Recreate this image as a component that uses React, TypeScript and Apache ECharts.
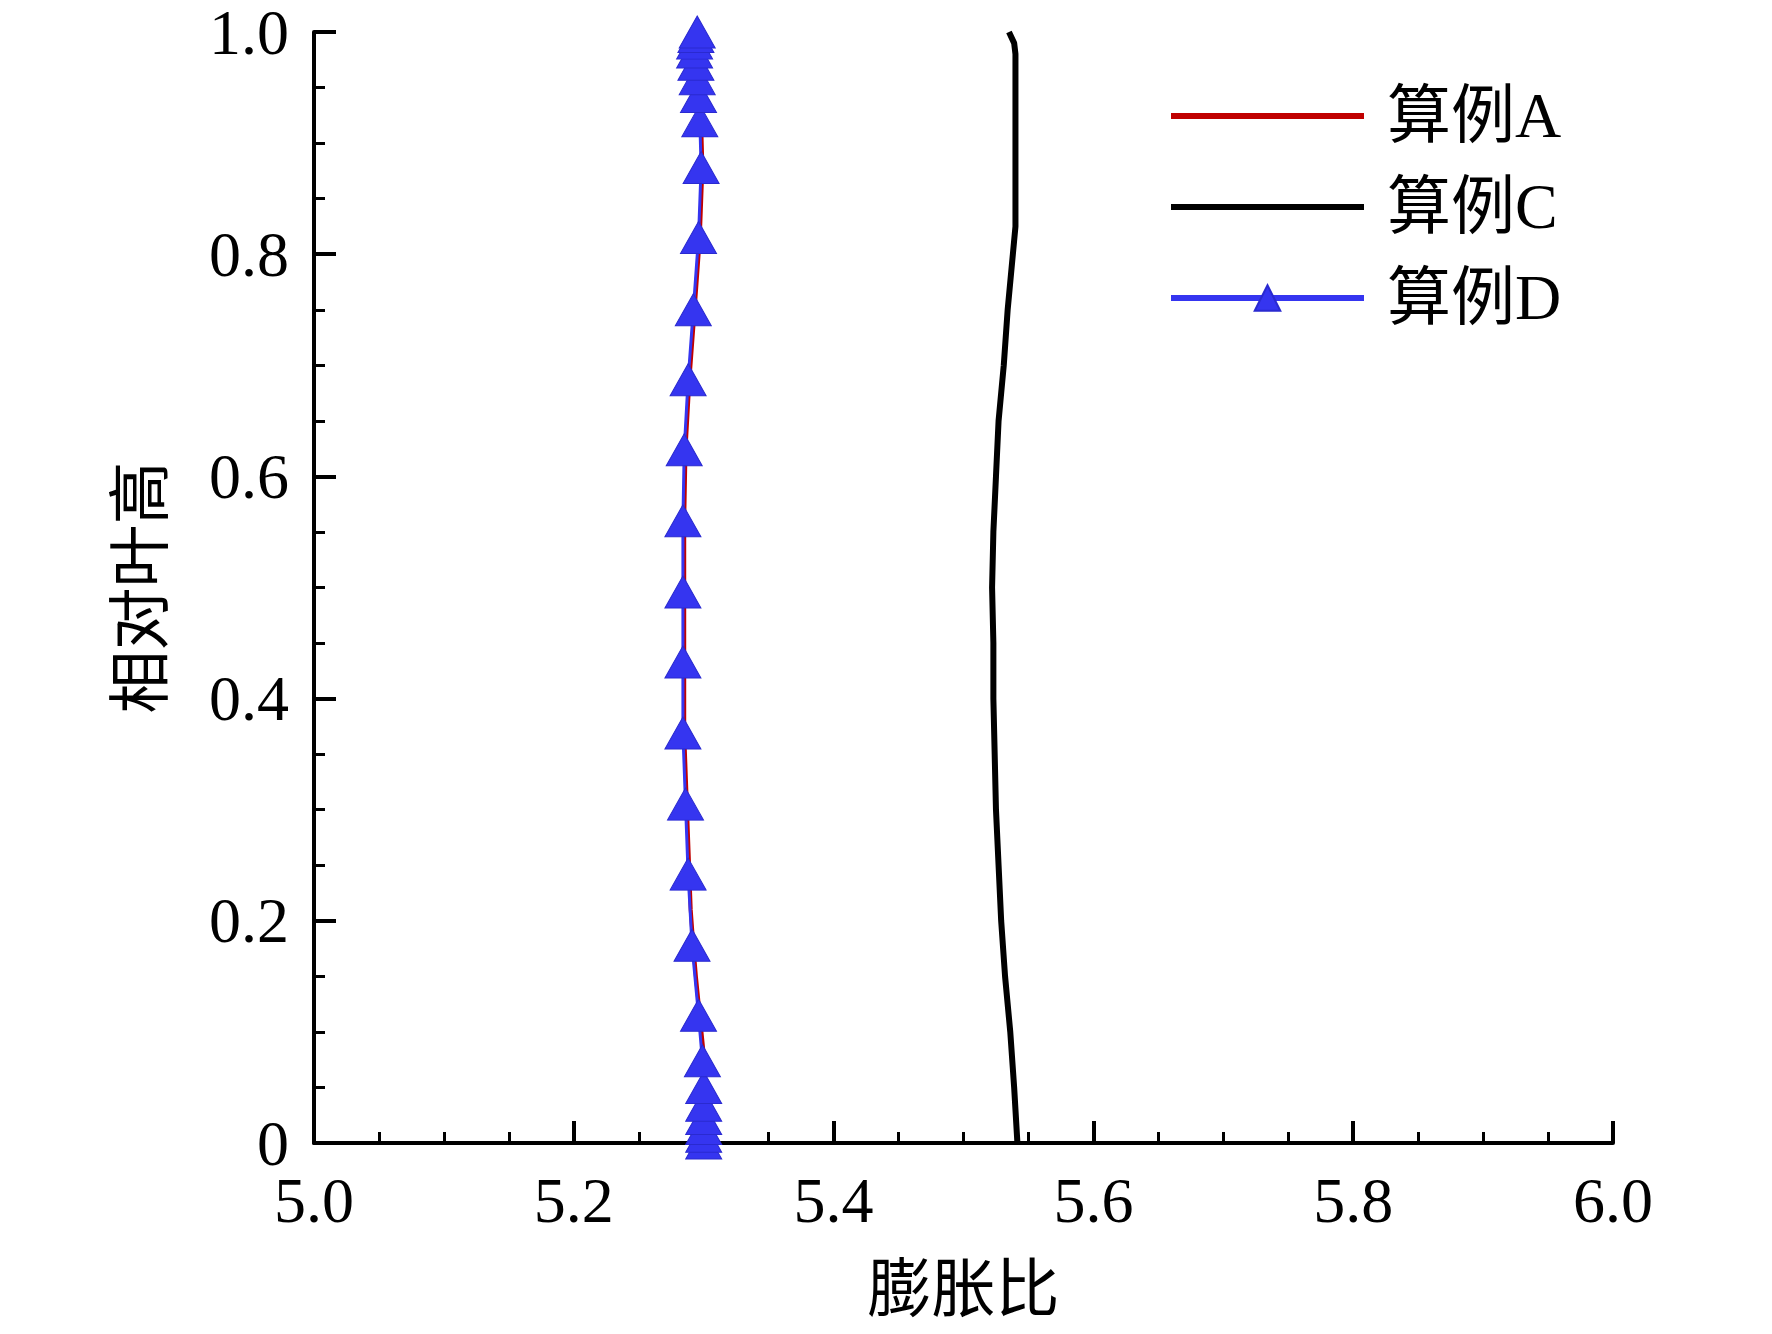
import React, { useEffect, useRef } from "react";
import * as echarts from "echarts";

// relative blade height (y) and expansion ratio (x)
const hD = [0, 0.006, 0.013, 0.022, 0.034, 0.05, 0.074, 0.115, 0.178, 0.242, 0.305, 0.369, 0.433, 0.496, 0.56, 0.624, 0.687, 0.75, 0.815, 0.878, 0.92, 0.942, 0.958, 0.971, 0.982, 0.99, 0.996, 1.0];
const xD = [5.3, 5.3, 5.3, 5.3, 5.3, 5.3, 5.299, 5.296, 5.291, 5.288, 5.286, 5.284, 5.284, 5.284, 5.284, 5.285, 5.288, 5.292, 5.296, 5.298, 5.297, 5.296, 5.295, 5.294, 5.293, 5.293, 5.294, 5.295];

const hA = [0, 0.02, 0.05, 0.08, 0.115, 0.15, 0.178, 0.21, 0.242, 0.305, 0.369, 0.433, 0.496, 0.56, 0.624, 0.687, 0.75, 0.815, 0.878, 0.92, 0.96, 0.99, 1.0];
const xA = [5.3, 5.3, 5.3, 5.3, 5.297, 5.294, 5.292, 5.29, 5.289, 5.287, 5.285, 5.285, 5.285, 5.285, 5.286, 5.289, 5.293, 5.297, 5.299, 5.298, 5.296, 5.294, 5.295];

const hC = [0, 0.05, 0.1, 0.15, 0.2, 0.25, 0.3, 0.35, 0.4, 0.45, 0.5, 0.55, 0.6, 0.65, 0.7, 0.75, 0.8, 0.825, 0.85, 0.9, 0.95, 0.98, 0.99, 1.0];
const xC = [5.5415, 5.539, 5.536, 5.532, 5.529, 5.527, 5.525, 5.524, 5.523, 5.523, 5.522, 5.523, 5.525, 5.527, 5.531, 5.534, 5.538, 5.54, 5.54, 5.54, 5.54, 5.54, 5.539, 5.535];

const seriesNames = ["算例A", "算例C", "算例D"];
const xTicks = [5.0, 5.2, 5.4, 5.6, 5.8, 6.0];
const yTicks = [0, 0.2, 0.4, 0.6, 0.8, 1.0];

const pairs = (xs: number[], hs: number[]) => xs.map((x, i) => [x, hs[i]]);

export default function App() {
  const ref = useRef<HTMLDivElement>(null);
  useEffect(() => {
    const chart = echarts.init(ref.current!, null, { renderer: "svg" });
    const serif = "'Liberation Serif', 'Times New Roman', serif";
    const mixed = "'Liberation Serif', 'Noto Sans CJK SC', serif";
    const cjk = "'Noto Sans CJK SC', sans-serif";
    const hidden = { color: "rgba(0,0,0,0)", borderColor: "rgba(0,0,0,0)", borderWidth: 0, opacity: 0 };
    const axisCommon = {
      axisLine: { show: true, lineStyle: { color: "#000", width: 4 } },
      axisTick: { show: true, inside: true, length: 22, lineStyle: { color: "#000", width: 4 } },
      minorTick: { show: true, splitNumber: 4, length: 11, lineStyle: { color: "#000", width: 3 } },
      splitLine: { show: false },
      minorSplitLine: { show: false },
    };
    chart.setOption({
      animation: false,
      backgroundColor: "#fff",
      grid: { left: 314, right: 159, top: 30, bottom: 191 },
      legend: {
        orient: "vertical",
        left: 1163,
        top: 79,
        itemWidth: 193,
        itemHeight: 32,
        itemGap: 27,
        lineStyle: { width: 6 },
        data: [
          { name: seriesNames[0], itemStyle: hidden },
          { name: seriesNames[1], itemStyle: hidden },
          { name: seriesNames[2] },
        ],
        textStyle: { fontSize: 64, fontFamily: mixed, color: "#000", padding: [0, 0, 0, 18] },
      },
      xAxis: {
        type: "value",
        min: 5,
        max: 6,
        interval: 0.2,
        name: "膨胀比",
        nameLocation: "middle",
        nameGap: 108,
        nameTextStyle: { fontSize: 64, fontFamily: cjk, color: "#000", lineHeight: 64 },
        axisLabel: {
          fontSize: 64,
          lineHeight: 48,
          fontFamily: serif,
          color: "#000",
          margin: 33,
          formatter: (v: number) => (xTicks.some((t) => Math.abs(t - v) < 1e-9) ? v.toFixed(1) : ""),
        },
        ...axisCommon,
      },
      yAxis: {
        type: "value",
        min: 0,
        max: 1,
        interval: 0.2,
        name: "相对叶高",
        nameLocation: "middle",
        nameGap: 148,
        nameTextStyle: { fontSize: 63, fontFamily: cjk, color: "#000" },
        axisLabel: {
          fontSize: 64,
          lineHeight: 48,
          fontFamily: serif,
          color: "#000",
          margin: 25,
          formatter: (v: number) => (yTicks.some((t) => Math.abs(t - v) < 1e-9) ? (v === 0 ? "0" : v.toFixed(1)) : ""),
        },
        ...axisCommon,
      },
      series: [
        {
          name: seriesNames[0],
          type: "line",
          data: pairs(xA, hA),
          symbol: "none",
          z: 2,
          lineStyle: { color: "#c00000", width: 4 },
          itemStyle: { color: "#c00000" },
        },
        {
          name: seriesNames[1],
          type: "line",
          data: pairs(xC, hC),
          symbol: "none",
          z: 2,
          lineStyle: { color: "#000", width: 6 },
          itemStyle: { color: "#000" },
        },
        {
          name: seriesNames[2],
          type: "line",
          data: pairs(xD, hD),
          symbol: "triangle",
          symbolSize: [36, 32],
          z: 3,
          lineStyle: { color: "#3535f0", width: 3 },
          itemStyle: { color: "#3535f0", borderColor: "#2a2ad0", borderWidth: 1 },
        },
      ],
    });
    return () => chart.dispose();
  }, []);
  return (
    <div
      ref={ref}
      style={{ position: "absolute", left: 0, top: 0, width: 1772, height: 1334, background: "#fff" }}
    />
  );
}
